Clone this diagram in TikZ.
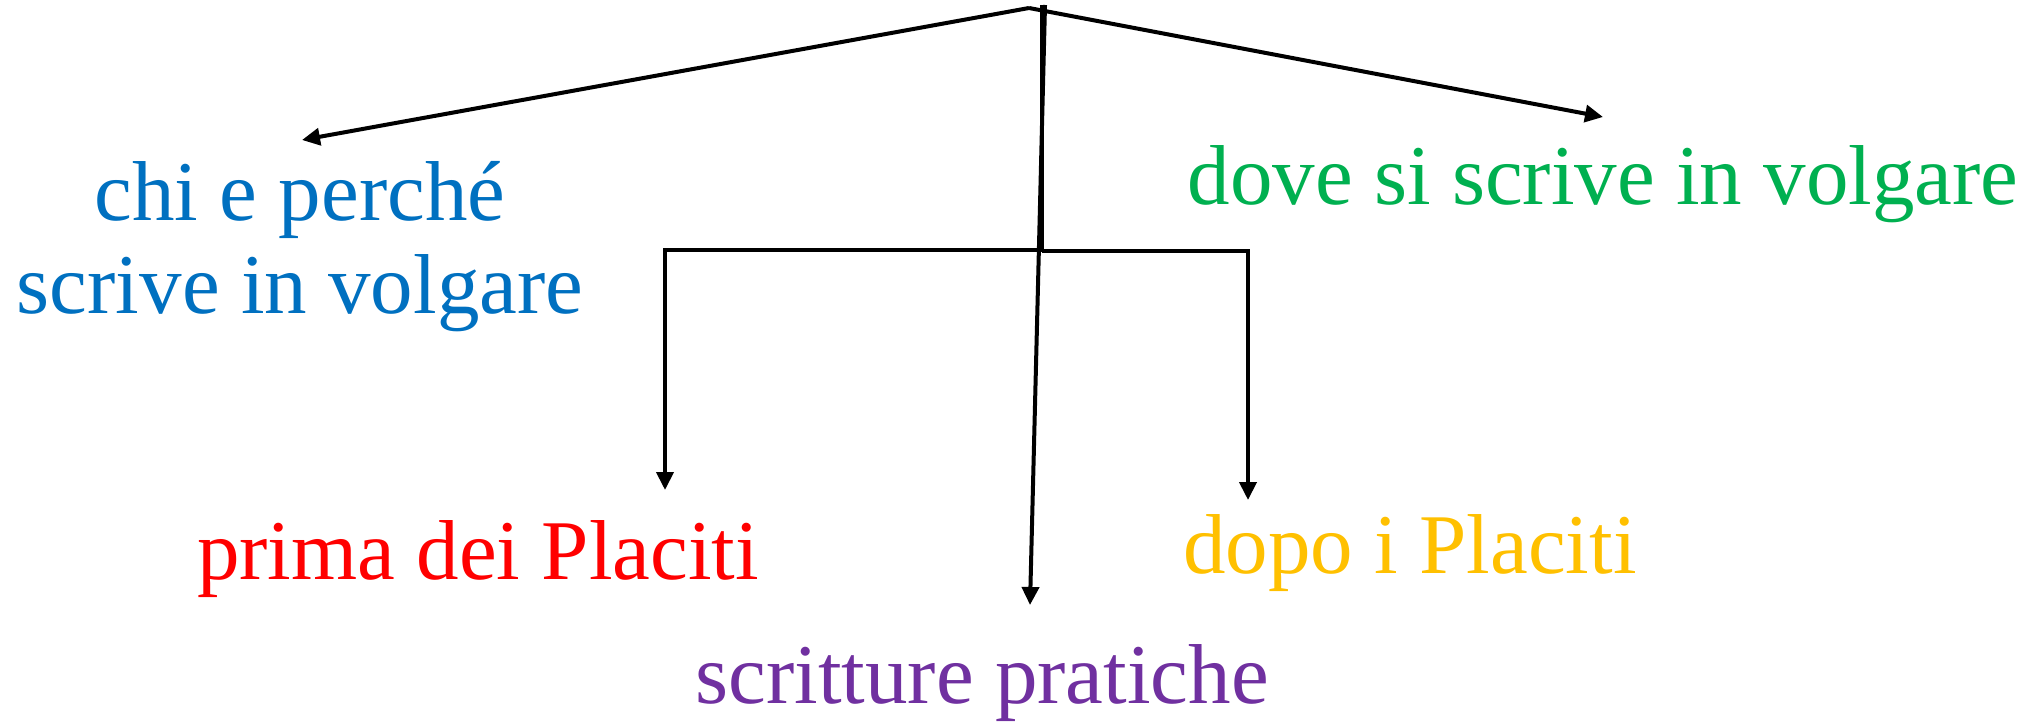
\documentclass[tikz,border=0pt]{standalone}
\usepackage{fontspec}
\setmainfont{Liberation Serif}
\usetikzlibrary{arrows.meta}
\definecolor{cblue}{HTML}{0070C0}
\definecolor{cgreen}{HTML}{00B050}
\definecolor{cred}{HTML}{FF0000}
\definecolor{cyellow}{HTML}{FFC000}
\definecolor{cpurple}{HTML}{7030A0}
\begin{document}
\begin{tikzpicture}[x=1pt,y=-1pt,
  label/.style={inner sep=0pt,anchor=base,align=center,font=\fontsize{85}{93}\selectfont},
  link/.style={line width=4pt,line join=miter},
  arrowlink/.style={link,-{Triangle[length=18pt,width=17pt]}}]
\useasboundingbox (0,0) rectangle (2041,725);

% labels (base anchor sits on the last line)
\node[label,text=cblue]   (who)   at (300,313)  {chi e perché\\scrive in volgare};
\node[label,text=cgreen]  (where) at (1603,204) {dove si scrive in volgare};
\node[label,text=cred]    (before) at (478,579) {prima dei Placiti};
\node[label,text=cyellow] (after)  at (1410,573) {dopo i Placiti};
\node[label,text=cpurple] (practice) at (982,703) {scritture pratiche};

% branching points
\coordinate (apex)  at (1029,8);
\coordinate (stemtop) at (1042,5);
\coordinate (slanttop) at (1045,5);
\coordinate (fork)  at (1042,250);
\coordinate (forkL) at (665,249);
\coordinate (forkR) at (1248,251);

% arrow ends
\coordinate (whoend)   at (302,140);
\coordinate (whereend) at (1603,117);
\coordinate (beforeend) at (665,490);
\coordinate (afterend)  at (1248,500);
\coordinate (practiceend) at (1030,605);

% connectors
\draw[arrowlink] (apex) -- (whoend);
\draw[arrowlink] (apex) -- (whereend);
\draw[link] (stemtop) -- (fork);
\draw[arrowlink] (slanttop) -- (practiceend);
\draw[arrowlink] (fork) -- (fork -| forkL) -- (beforeend);
\draw[arrowlink] (fork |- forkR) -- (forkR) -- (afterend);
\end{tikzpicture}
\end{document}
